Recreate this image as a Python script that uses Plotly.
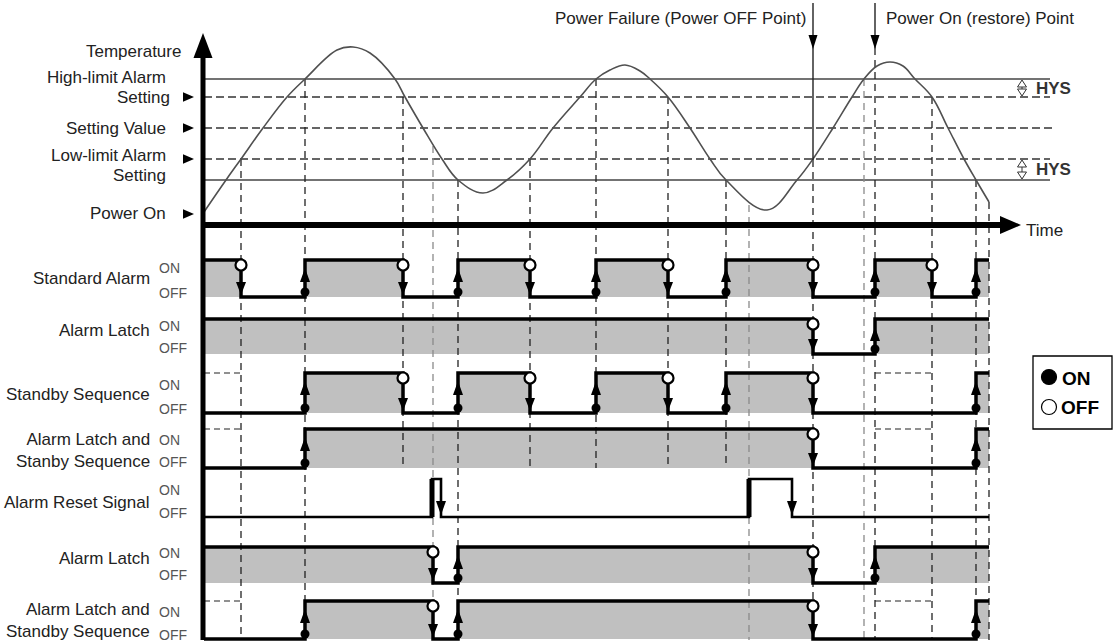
import plotly.graph_objects as go

W, H = 1113, 644
FONT = "Liberation Sans, Arial, sans-serif"

# temperature trace (time position, level position)
temp_t = [204, 226, 241, 263, 287, 305, 337, 353, 370, 395, 405, 423, 442, 458, 483,
          507, 530, 553, 580, 596, 610, 625, 640, 650, 668, 690, 710, 726, 767, 797, 813, 833,
          852, 864, 877, 890, 903, 915, 932, 948, 964, 976, 989]
temp_y = [212, 180, 159, 128, 97, 79, 50, 47, 53, 79, 97, 128, 159, 180, 193,
          180, 159, 128, 97, 79, 70, 65, 71, 79, 97, 128, 159, 180, 210, 180, 159, 128,
          97, 79, 66, 62, 66, 79, 97, 128, 159, 180, 202]

# reference levels on the temperature axis
hi_alarm, hi_setting, set_value, lo_setting, lo_alarm, power_on_lvl = 79, 97, 128, 159, 180, 214
time_axis_y = 225
t_start, t_end, t_line_end = 204, 989, 1050
t_power_off, t_power_on = 813, 875

level_names = ["High-limit Alarm", "Setting", "Setting Value", "Low-limit Alarm", "Setting", "Power On"]
level_name_y = [77, 97, 128, 155, 175, 213]
level_name_x = [168, 172, 168, 168, 168, 168]
level_marks = [hi_setting, set_value, lo_setting, power_on_lvl]

# vertical event lines: time, top level, bottom, grey?
event_t = [241, 305, 403, 433, 458, 530, 596, 668, 726, 749, 813, 864, 875, 932, 976, 989]
event_top = [lo_setting, hi_alarm, hi_setting, 146, lo_alarm, lo_setting, hi_alarm, hi_setting, lo_alarm,
             205, 160, hi_alarm, 48, hi_setting, lo_alarm, 202]
event_bottom = [640, 640, 468, 640, 640, 468, 468, 468, 468, 640, 640, 640, 640, 640, 640, 640]
event_grey = [0, 0, 0, 1, 0, 0, 0, 0, 0, 1, 0, 1, 0, 0, 0, 0]

# timing rows
row_names = ["Standard Alarm", "Alarm Latch", "Standby Sequence", "Alarm Latch and<br>Stanby Sequence",
             "Alarm Reset Signal", "Alarm Latch", "Alarm Latch and<br>Standby Sequence"]
row_name_y = [278, 330, 394, 450, 502, 558, 620]
row_on_lbl_y = [268, 326, 385, 440, 490, 553, 612]
row_off_lbl_y = [293, 348, 409, 462, 513, 575, 635]
row_on = [260, 319, 373, 429, 479, 547, 601]
row_off = [297, 354, 413, 468, 517, 583, 639]
row_init = [1, 1, 0, 0, 0, 1, 0]
row_edges = [
    [241, 305, 403, 458, 530, 596, 668, 726, 813, 875, 932, 976],
    [813, 875],
    [305, 403, 458, 530, 596, 668, 726, 813, 976],
    [305, 813, 976],
    [432, 441, 749, 792],
    [433, 458, 813, 875],
    [305, 433, 458, 813, 976],
]
standby_rows = [2, 3, 6]
standby_stubs = [(204, 241), (875, 932)]
reset_row = 4


def tri(x, y, d, length, half):
    # arrow head path with its tip at (x, y)
    if d == "down":
        return f"M{x-half},{y-length} L{x+half},{y-length} L{x},{y} Z"
    if d == "up":
        return f"M{x-half},{y+length} L{x+half},{y+length} L{x},{y} Z"
    if d == "right":
        return f"M{x-length},{y-half} L{x-length},{y+half} L{x},{y} Z"
    return f"M{x+length},{y-half} L{x+length},{y+half} L{x},{y} Z"


fig = go.Figure()
shapes = []
annots = []


def line(x0, y0, x1, y1, color="#333", width=1.3, dash=None, layer="below"):
    shapes.append(dict(type="line", x0=x0, y0=y0, x1=x1, y1=y1, layer=layer,
                       line=dict(color=color, width=width, dash=dash)))


def head(path, fill="black", lw=0, lc="black"):
    shapes.append(dict(type="path", path=path, fillcolor=fill, layer="above",
                       line=dict(color=lc, width=lw)))


def text(x, y, s, anchor="right", size=17, color="#222", bold=False):
    if bold:
        s = f"<b>{s}</b>"
    annots.append(dict(x=x, y=y, text=s, showarrow=False, xanchor=anchor, yanchor="middle",
                       align=anchor, font=dict(family=FONT, size=size, color=color)))


# grey fill under ON periods
for i in range(len(row_names)):
    if i == reset_row:
        continue
    state = row_init[i]
    pts = [t_start] + row_edges[i] + [t_end]
    for k in range(len(pts) - 1):
        if state:
            shapes.append(dict(type="rect", x0=pts[k], x1=pts[k + 1], y0=row_on[i], y1=row_off[i],
                               fillcolor="#c0c0c0", line=dict(width=0), layer="below"))
        state = 1 - state

# threshold lines
for lv in [hi_alarm, lo_alarm]:
    line(t_start, lv, t_line_end, lv, color="#444", width=1.4)
for lv in [hi_setting, set_value, lo_setting]:
    line(t_start, lv, t_line_end + (3 if lv == set_value else 0), lv, color="#333", width=1.4, dash="8px,4px")

# vertical event lines
for t, top, bot, g in zip(event_t, event_top, event_bottom, event_grey):
    line(t, top, t, bot, color="#8a8a8a" if g else "#222", width=1.3, dash="7px,5px")

# standby dashed stubs
for i in standby_rows:
    for a, b in standby_stubs:
        line(a, row_on[i], b, row_on[i], color="#222", width=1.2, dash="6px,4px")

# power failure / restore markers
line(t_power_off, 3, t_power_off, 160, color="#222", width=1.4, layer="above")
line(t_power_on, 3, t_power_on, 48, color="#222", width=1.4, layer="above")
head(tri(t_power_off, 49, "down", 14, 4.5))
head(tri(t_power_on, 49, "down", 14, 4.5))
text(808, 18, "Power Failure (Power OFF Point)")
text(884, 18, "Power On (restore) Point", anchor="left")

# temperature curve
fig.add_trace(go.Scatter(x=temp_t, y=temp_y, mode="lines", hoverinfo="skip",
                         line=dict(color="#505050", width=1.6, shape="spline", smoothing=1.1)))

# axes
line(203, 640, 203, 52, color="black", width=5, layer="above")
head(tri(203, 33, "up", 25, 9.5))
line(203, time_axis_y, 1003, time_axis_y, color="black", width=6, layer="above")
head(tri(1021, time_axis_y, "right", 21, 9))
text(1024, 230, "Time", anchor="left")
text(183, 51, "Temperature")

for s, y, x in zip(level_names, level_name_y, level_name_x):
    text(x, y, s)
for lv in level_marks:
    head(tri(194, lv, "right", 11, 4.8))

# HYS markers
for a, b in [(hi_alarm, hi_setting), (lo_setting, lo_alarm)]:
    line(1022, a + 2, 1022, b - 2, color="#333", width=1, layer="above")
    head(tri(1022, a + 1, "up", 7, 4.5), fill="white", lw=1, lc="#333")
    head(tri(1022, b - 1, "down", 7, 4.5), fill="white", lw=1, lc="#333")
    text(1034, (a + b) / 2, "HYS", anchor="left", size=17, color="#333", bold=True)

# signals
open_x, open_y, fill_x, fill_y = [], [], [], []
for i in range(len(row_names)):
    lv = [row_off[i], row_on[i]]
    state = row_init[i]
    xs, ys = [t_start], [lv[state]]
    for t in row_edges[i]:
        state = 1 - state
        xs.append(t)
        ys.append(lv[state])
        if i == reset_row:
            if state:
                line(t, row_off[i], t, row_on[i], color="black", width=5, layer="above")
            else:
                head(tri(t, row_off[i] - 2, "down", 14, 5))
            continue
        if state:
            fill_x.append(t)
            fill_y.append(row_off[i] - 5)
            head(tri(t, row_on[i] + 8, "up", 14, 5))
        else:
            open_x.append(t)
            open_y.append(row_on[i] + 5)
            head(tri(t, row_off[i] - 2, "down", 13, 5))
    xs.append(t_end)
    ys.append(lv[state])
    fig.add_trace(go.Scatter(x=xs, y=ys, mode="lines", hoverinfo="skip",
                             line=dict(color="black", width=2.6 if i == reset_row else 3.5, shape="hv")))
    text(152, row_name_y[i], row_names[i])
    text(157, row_on_lbl_y[i], "ON", anchor="left", size=14, color="#555")
    text(157, row_off_lbl_y[i], "OFF", anchor="left", size=14, color="#555")

fig.add_trace(go.Scatter(x=fill_x, y=fill_y, mode="markers", hoverinfo="skip",
                         marker=dict(symbol="circle", size=9, color="black")))
fig.add_trace(go.Scatter(x=open_x, y=open_y, mode="markers", hoverinfo="skip",
                         marker=dict(symbol="circle", size=11, color="white",
                                     line=dict(color="black", width=2.2))))

# legend box
shapes.append(dict(type="rect", x0=1033, x1=1112, y0=356, y1=429, layer="above",
                   line=dict(color="black", width=1.3), fillcolor="rgba(0,0,0,0)"))
fig.add_trace(go.Scatter(x=[1049, 1049], y=[377, 407], mode="markers", hoverinfo="skip",
                         marker=dict(symbol="circle", size=15, color=["black", "white"],
                                     line=dict(color="black", width=1.2))))
text(1060, 378, "ON", anchor="left", size=19, color="black", bold=True)
text(1059, 407, "OFF", anchor="left", size=19, color="black", bold=True)

fig.update_layout(
    width=W, height=H, margin=dict(l=0, r=0, t=0, b=0),
    plot_bgcolor="white", paper_bgcolor="white", showlegend=False,
    xaxis=dict(range=[0, W], visible=False, fixedrange=True),
    yaxis=dict(range=[H, 0], visible=False, fixedrange=True),
    shapes=shapes, annotations=annots,
)
fig.update_traces(cliponaxis=False)
fig.write_html("out.html", config={"displayModeBar": False},
               post_script="document.body.style.margin='0px';")
